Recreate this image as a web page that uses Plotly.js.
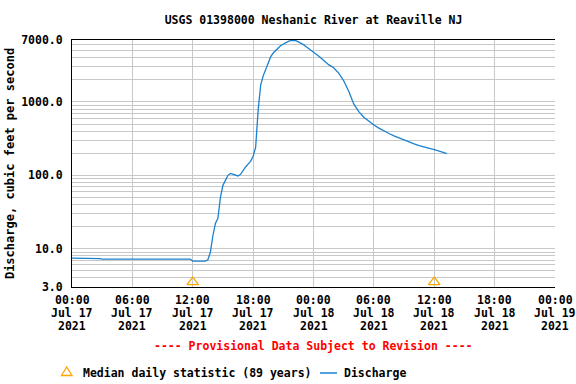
<!DOCTYPE html>
<html>
<head>
<meta charset="utf-8">
<script src="https://cdn.plot.ly/plotly-3.0.1.min.js"></script>
<style>
  html, body { margin: 0; padding: 0; background: #fff; }
  #chart { width: 576px; height: 384px; }
</style>
</head>
<body>
<div id="chart"></div>
<script>
// Instantaneous discharge, Neshanic River at Reaville NJ (cfs)
const dischargeTimes = [
  '2021-07-17 00:00', '2021-07-17 02:00', '2021-07-17 02:15', '2021-07-17 02:30',
  '2021-07-17 02:45', '2021-07-17 03:00', '2021-07-17 11:45', '2021-07-17 12:00',
  '2021-07-17 13:15', '2021-07-17 13:30', '2021-07-17 13:45', '2021-07-17 14:00',
  '2021-07-17 14:15', '2021-07-17 14:30', '2021-07-17 14:45', '2021-07-17 15:00',
  '2021-07-17 15:15', '2021-07-17 15:30', '2021-07-17 15:45', '2021-07-17 16:00',
  '2021-07-17 16:15', '2021-07-17 16:30', '2021-07-17 16:45', '2021-07-17 17:00',
  '2021-07-17 17:15', '2021-07-17 17:30', '2021-07-17 17:45', '2021-07-17 18:00',
  '2021-07-17 18:15', '2021-07-17 18:30', '2021-07-17 18:45', '2021-07-17 19:00',
  '2021-07-17 19:15', '2021-07-17 19:30', '2021-07-17 19:45', '2021-07-17 20:00',
  '2021-07-17 20:15', '2021-07-17 20:30', '2021-07-17 20:45', '2021-07-17 21:00',
  '2021-07-17 21:15', '2021-07-17 21:30', '2021-07-17 21:45', '2021-07-17 22:00',
  '2021-07-17 22:15', '2021-07-17 22:30', '2021-07-17 22:45', '2021-07-17 23:00',
  '2021-07-17 23:15', '2021-07-17 23:30', '2021-07-17 23:45', '2021-07-18 00:00',
  '2021-07-18 00:30', '2021-07-18 01:00', '2021-07-18 01:30', '2021-07-18 02:00',
  '2021-07-18 02:30', '2021-07-18 03:00', '2021-07-18 03:30', '2021-07-18 04:00',
  '2021-07-18 04:30', '2021-07-18 05:00', '2021-07-18 05:30', '2021-07-18 06:00',
  '2021-07-18 06:30', '2021-07-18 07:00', '2021-07-18 07:30', '2021-07-18 08:00',
  '2021-07-18 08:30', '2021-07-18 09:00', '2021-07-18 09:30', '2021-07-18 10:00',
  '2021-07-18 10:30', '2021-07-18 11:00', '2021-07-18 11:30', '2021-07-18 12:00',
  '2021-07-18 12:30', '2021-07-18 13:00', '2021-07-18 13:15'
];
const dischargeValues = [
  7.44, 7.44, 7.3, 7.44,
  7.3, 7.21, 7.21, 6.77,
  6.77, 7.06, 8.9, 15,
  22, 26, 50, 73,
  88, 100, 106, 103,
  99, 98, 103, 117,
  130, 142, 155, 182,
  240, 780, 1700, 2270,
  2800, 3400, 4150, 4650,
  5100, 5450, 5900, 6200,
  6500, 6700, 6900, 6950,
  6850, 6600, 6350, 6050,
  5700, 5400, 5100, 4800,
  4250, 3700, 3230, 2930,
  2480, 1950, 1400, 940,
  740, 620, 540, 485,
  440, 400, 372, 345,
  322, 302, 280, 268,
  254, 245, 233, 224,
  213, 202, 197
];

// Median daily statistic (89 years)
const medianTimes = ['2021-07-17 12:00', '2021-07-18 12:00'];
const medianValues = [3.5, 3.5];

// Axis ticks
const xTickVals = [
  '2021-07-17 00:00', '2021-07-17 06:00', '2021-07-17 12:00', '2021-07-17 18:00',
  '2021-07-18 00:00', '2021-07-18 06:00', '2021-07-18 12:00', '2021-07-18 18:00',
  '2021-07-19 00:00'
];
const xTickTimes = ['00:00', '06:00', '12:00', '18:00', '00:00', '06:00', '12:00', '18:00', '00:00'];
const xTickDates = ['Jul 17', 'Jul 17', 'Jul 17', 'Jul 17', 'Jul 18', 'Jul 18', 'Jul 18', 'Jul 18', 'Jul 19'];
const xTickYears = ['2021', '2021', '2021', '2021', '2021', '2021', '2021', '2021', '2021'];

const yTickVals = [3, 10, 100, 1000, 7000];
const yTickText = ['3.0', '10.0', '100.0', '1000.0', '7000.0'];
const yMinorVals = [4, 5, 6, 7, 8, 9, 20, 30, 40, 50, 60, 70, 80, 90,
  200, 300, 400, 500, 600, 700, 800, 900, 2000, 3000, 4000, 5000, 6000];

const FONT = 'DejaVu Sans Mono, Liberation Mono, monospace';
const LINE_BLUE = '#1a80d0';
const MEDIAN_ORANGE = '#ffa500';
const GRID = '#c8c8c8';

const W = 576, H = 384;
const margin = { l: 72, r: 21, t: 40, b: 97 };
const plotW = W - margin.l - margin.r;
const plotH = H - margin.t - margin.b;
// pixel -> paper helpers for the hand-laid legend
const px = x => (x - margin.l) / plotW;
const py = y => (H - margin.b - y) / plotH;

const traces = [
  {
    x: dischargeTimes, y: dischargeValues,
    type: 'scatter', mode: 'lines',
    line: { color: LINE_BLUE, width: 1.3 },
    name: 'Discharge', showlegend: false, hoverinfo: 'x+y'
  },
  {
    x: medianTimes, y: medianValues,
    type: 'scatter', mode: 'markers',
    marker: { symbol: 'triangle-up-open', size: 10, color: MEDIAN_ORANGE, line: { width: 1.3, color: MEDIAN_ORANGE } },
    name: 'Median daily statistic (89 years)', showlegend: false, cliponaxis: false
  }
];

const annotations = [];
const rows = [xTickTimes, xTickDates, xTickYears];
rows.forEach((row, r) => {
  row.forEach((txt, i) => {
    annotations.push({
      x: xTickVals[i], xref: 'x', y: 0, yref: 'paper',
      yanchor: 'middle', xanchor: 'center', yshift: -13 * (r + 1),
      text: txt, showarrow: false,
      font: { family: FONT, size: 11.5, color: '#000', weight: 'bold' }
    });
  });
});

annotations.push({
  x: 0.5, xref: 'paper', y: 0, yref: 'paper', yshift: -59, yanchor: 'middle',
  text: '---- Provisional Data Subject to Revision ----', showarrow: false,
  font: { family: FONT, size: 11.5, color: '#ff0000', weight: 'bold' }
});
annotations.push({
  x: px(81), xref: 'paper', xanchor: 'left', y: py(373), yref: 'paper', yanchor: 'middle',
  text: 'Median daily statistic (89 years)', showarrow: false,
  font: { family: FONT, size: 11.5, color: '#000', weight: 'bold' }
});
annotations.push({
  x: px(342), xref: 'paper', xanchor: 'left', y: py(373), yref: 'paper', yanchor: 'middle',
  text: 'Discharge', showarrow: false,
  font: { family: FONT, size: 11.5, color: '#000', weight: 'bold' }
});

const shapes = [
  {
    type: 'path', xref: 'paper', yref: 'paper',
    path: `M ${px(61.5)} ${py(375.5)} L ${px(72)} ${py(375.5)} L ${px(66.7)} ${py(367)} Z`,
    line: { color: MEDIAN_ORANGE, width: 1.3 }, fillcolor: 'rgba(0,0,0,0)'
  },
  {
    type: 'line', xref: 'paper', yref: 'paper',
    x0: px(320), x1: px(337), y0: py(373), y1: py(373),
    line: { color: LINE_BLUE, width: 1.5 }
  }
];

const layout = {
  width: W, height: H,
  margin: margin,
  paper_bgcolor: '#fff', plot_bgcolor: '#fff',
  font: { family: FONT, size: 11.5, color: '#000', weight: 'bold' },
  showlegend: false,
  title: {
    text: 'USGS 01398000 Neshanic River at Reaville NJ',
    x: 0.5, xref: 'paper', y: 1 - 20 / H, yref: 'container', yanchor: 'middle',
    font: { family: FONT, size: 11.5, color: '#000', weight: 'bold' }
  },
  xaxis: {
    type: 'date',
    range: ['2021-07-17 00:00', '2021-07-19 00:00'],
    tickmode: 'array', tickvals: xTickVals, showticklabels: false,
    ticks: '', showgrid: true, gridcolor: GRID, gridwidth: 1,
    showline: true, linecolor: '#000', linewidth: 1, mirror: true,
    zeroline: false, fixedrange: true
  },
  yaxis: {
    type: 'log',
    range: [Math.log10(3), Math.log10(7000)],
    tickmode: 'array', tickvals: yTickVals, ticktext: yTickText,
    ticks: '', ticklabelstandoff: 6,
    showgrid: true, gridcolor: GRID, gridwidth: 1,
    minor: { tickmode: 'array', tickvals: yMinorVals, showgrid: true, gridcolor: GRID, gridwidth: 1, ticks: '' },
    showline: true, linecolor: '#000', linewidth: 1, mirror: false,
    zeroline: false, fixedrange: true,
    title: {
      text: 'Discharge, cubic feet per second', standoff: 3,
      font: { family: FONT, size: 12, color: '#000', weight: 'bold' }
    },
    tickfont: { family: FONT, size: 11.5, color: '#000', weight: 'bold' }
  },
  annotations: annotations,
  shapes: shapes
};

Plotly.newPlot('chart', traces, layout, { displayModeBar: false, staticPlot: true });
</script>
</body>
</html>
